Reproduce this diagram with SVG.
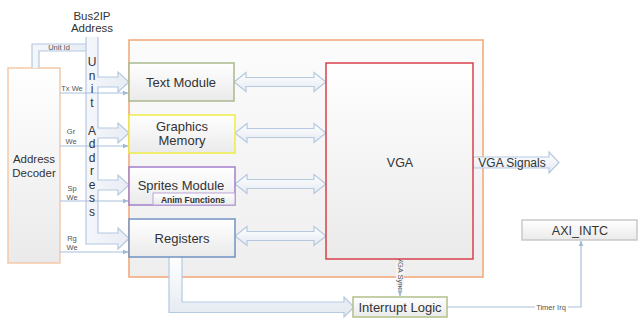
<svg xmlns="http://www.w3.org/2000/svg" width="638" height="320" viewBox="0 0 638 320">
<defs>
<linearGradient id="gBox" x1="0" y1="0" x2="0" y2="1"><stop offset="0" stop-color="#ffffff"/><stop offset="1" stop-color="#eaeaea"/></linearGradient>
<linearGradient id="gOuter" x1="0" y1="0" x2="0" y2="1"><stop offset="0" stop-color="#fcfcfc"/><stop offset="1" stop-color="#eeeeee"/></linearGradient>
<linearGradient id="gArrow" x1="0" y1="0" x2="0" y2="1"><stop offset="0" stop-color="#ffffff"/><stop offset="1" stop-color="#e4e9f1"/></linearGradient>
<linearGradient id="gBus" x1="0" y1="0" x2="1" y2="0"><stop offset="0" stop-color="#f4f6fa"/><stop offset="1" stop-color="#e8edf4"/></linearGradient>
<marker id="ah" viewBox="0 0 10 10" refX="9" refY="5" markerWidth="5" markerHeight="5" orient="auto"><path d="M0,1 L10,5 L0,9 Z" fill="#9fb8d6"/></marker>
</defs>
<style>
.t{font-family:"Liberation Sans",Arial,sans-serif;fill:#333;text-anchor:middle}
.s{font-family:"Liberation Sans",Arial,sans-serif;fill:#555;text-anchor:middle;font-size:7.5px}
.blk{fill:url(#gArrow);stroke:#b6c9e1;stroke-width:1.2;stroke-linejoin:miter}
.sig{fill:none;stroke:#a9c0dc;stroke-width:1.2}
.box{fill:url(#gBox);stroke-width:1.5}
</style>
<rect width="638" height="320" fill="#ffffff"/>

<g id="fpga">
<rect x="129" y="40" width="354" height="237" fill="url(#gOuter)" stroke="#f0a674" stroke-width="1.5"/>
</g>

<g id="address-decoder">
<rect x="8" y="68" width="52" height="195" fill="url(#gBox)" stroke="#f3c9a8" stroke-width="1.5"/>
<text class="t" x="34" y="163" font-size="11.5">Address</text>
<text class="t" x="34" y="177" font-size="11.5">Decoder</text>
</g>

<g id="bus-label">
<text class="t" x="92" y="20" font-size="11.5">Bus2IP</text>
<text class="t" x="92" y="32" font-size="11.5">Address</text>
</g>

<g id="connectors">
<!-- Unit Id band -->
<path d="M32,68 L32,44 L86,44 L86,51 L39,51 L39,68" fill="url(#gBus)" stroke="none"/>
<path d="M32,68 L32,44 L86,44 M86,51 L39,51 L39,68" fill="none" stroke="#b6c9e1" stroke-width="1.2"/>
<!-- Unit address bus with branches -->
<path class="blk" style="fill:url(#gBus)" d="M98,37 L98,77 L118,77 L118,72 L129,82 L118,92 L118,87 L98,87 L98,128 L118,128 L118,123 L129,133 L118,143 L118,138 L98,138 L98,180 L118,180 L118,175 L129,185 L118,195 L118,190 L98,190 L98,233 L118,233 L118,228 L129,238.5 L118,249 L118,244 L86,244 L86,37"/>
<!-- write-enable lines -->
<line class="sig" x1="60" y1="93" x2="128" y2="93" marker-end="url(#ah)"/>
<line class="sig" x1="60" y1="146" x2="128" y2="146" marker-end="url(#ah)"/>
<line class="sig" x1="60" y1="201" x2="128" y2="201" marker-end="url(#ah)"/>
<line class="sig" x1="60" y1="252" x2="128" y2="252" marker-end="url(#ah)"/>
<!-- double arrows to VGA -->
<path class="blk" d="M234,82 L246,72.5 L246,77.5 L314,77.5 L314,72.5 L326,82 L314,91.5 L314,86.5 L246,86.5 L246,91.5 Z"/>
<path class="blk" d="M235,133 L247,123.5 L247,128.5 L314,128.5 L314,123.5 L326,133 L314,142.5 L314,137.5 L247,137.5 L247,142.5 Z"/>
<path class="blk" d="M235,184 L247,174.5 L247,179.5 L314,179.5 L314,174.5 L326,184 L314,193.5 L314,188.5 L247,188.5 L247,193.5 Z"/>
<path class="blk" d="M235,236 L247,226.5 L247,231.5 L314,231.5 L314,226.5 L326,236 L314,245.5 L314,240.5 L247,240.5 L247,245.5 Z"/>
<!-- VGA Signals -->
<path class="blk" d="M473,157 L549,157 L549,152 L559,162.5 L549,173 L549,168 L473,168 Z"/>
<!-- Registers to Interrupt Logic -->
<path class="blk" d="M169,257 L169,312.5 L344,312.5 L344,317 L354,307 L344,297 L344,302 L182,302 L182,257"/>
<!-- VGA Sync -->
<line class="sig" x1="400" y1="259" x2="400" y2="296" marker-end="url(#ah)"/>
<!-- Timer Irq -->
<polyline class="sig" points="447,307 581,307 581,241" marker-end="url(#ah)"/>
</g>

<g id="conn-labels">
<text class="s" x="59" y="50">Unit Id</text>
<text class="s" x="72" y="91">Tx We</text>
<text class="s" x="71" y="134">Gr</text>
<text class="s" x="71" y="144">We</text>
<text class="s" x="72" y="191">Sp</text>
<text class="s" x="72" y="200">We</text>
<text class="s" x="72" y="241">Rg</text>
<text class="s" x="72" y="250">We</text>
<text class="t" x="92" font-size="12"><tspan x="92" y="66">U</tspan><tspan x="92" y="80">n</tspan><tspan x="92" y="93">i</tspan><tspan x="92" y="107">t</tspan><tspan x="92" y="135">A</tspan><tspan x="92" y="148">d</tspan><tspan x="92" y="162">d</tspan><tspan x="92" y="175">r</tspan><tspan x="92" y="189">e</tspan><tspan x="92" y="202">s</tspan><tspan x="92" y="216">s</tspan></text>
<rect x="396" y="263" width="8" height="22" fill="#f6f6f6"/>
<text class="s" x="0" y="0" font-size="6.5" transform="translate(397.5,274) rotate(90)">VGA Sync</text>
<rect x="535" y="303" width="33" height="8" fill="#ffffff"/>
<text class="s" x="551" y="309.5" font-size="7">Timer Irq</text>
<text class="t" x="512" y="167" font-size="12">VGA Signals</text>
</g>

<g id="text-module">
<rect class="box" x="129" y="63" width="105" height="38" stroke="#a9b98e"/>
<text class="t" x="181" y="86.5" font-size="13">Text Module</text>
</g>

<g id="graphics-memory">
<rect class="box" x="129" y="115" width="106" height="38" stroke="#ecec46"/>
<text class="t" x="182" y="130.5" font-size="13">Graphics</text>
<text class="t" x="182" y="144.5" font-size="13">Memory</text>
</g>

<g id="sprites-module">
<rect class="box" x="129" y="167" width="106" height="38" stroke="#a27fcb"/>
<text class="t" x="181" y="190" font-size="13">Sprites Module</text>
<rect x="153" y="193" width="82" height="12" fill="url(#gBox)" stroke="#b9a2d8" stroke-width="1"/>
<text class="t" x="193" y="202.5" font-size="8.5" font-weight="bold" fill="#444">Anim Functions</text>
</g>

<g id="registers">
<rect class="box" x="129" y="219" width="106" height="38" stroke="#7193c2"/>
<text class="t" x="182" y="242.5" font-size="13">Registers</text>
</g>

<g id="vga">
<rect class="box" x="326" y="63" width="147" height="196" stroke="#d6404c"/>
<text class="t" x="400" y="166.5" font-size="12.5">VGA</text>
</g>

<g id="interrupt-logic">
<rect class="box" x="353" y="297" width="94" height="20" stroke="#b3c08a"/>
<text class="t" x="400" y="311.5" font-size="13">Interrupt Logic</text>
</g>

<g id="axi-intc">
<rect class="box" x="522" y="220" width="115" height="20" stroke="#c9c9c9" stroke-width="1.2"/>
<text class="t" x="580" y="234.5" font-size="12.5">AXI_INTC</text>
</g>
</svg>
